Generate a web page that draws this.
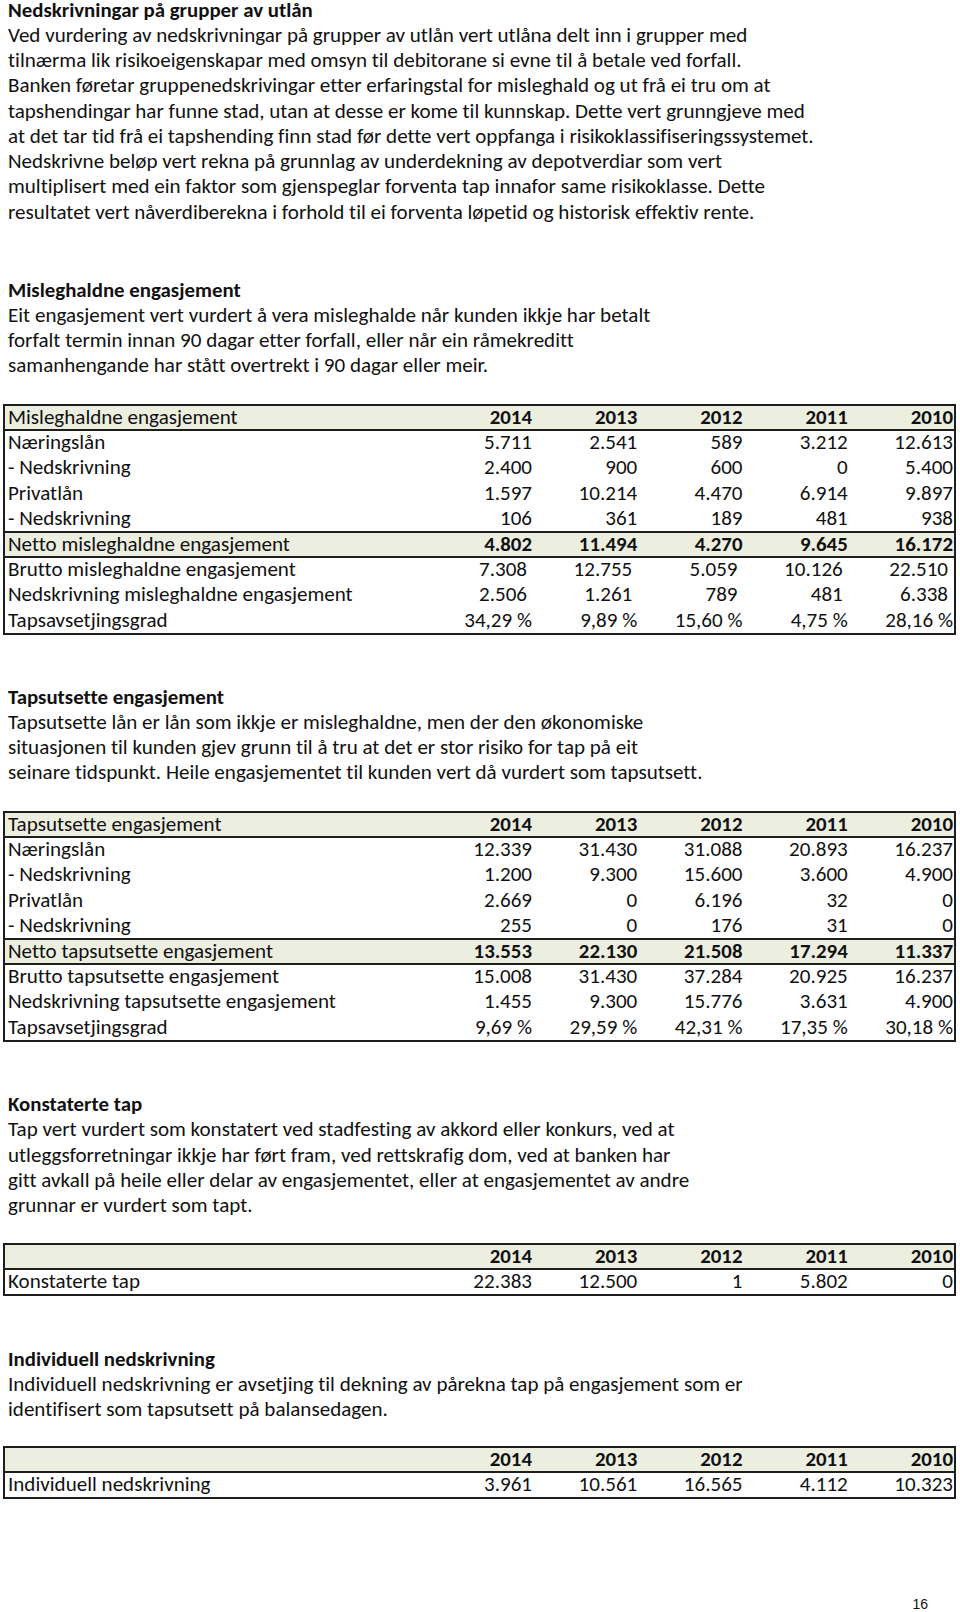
<!DOCTYPE html>
<html lang="nn">
<head>
<meta charset="utf-8">
<script src="https://cdn.jsdelivr.net/npm/chart.js@4.4.1/dist/chart.umd.min.js"></script>
<style>
html,body{margin:0;padding:0;background:#fff;}
body{width:960px;height:1612px;position:relative;overflow:hidden;color:#111;}
.t{position:absolute;white-space:nowrap;font-variant-ligatures:none;font-feature-settings:"liga" 0,"clig" 0;}
.fill{position:absolute;background:#ECEEE0;}
.ln{position:absolute;background:#1e1e1e;}
</style>
</head>
<body>
<script>
// ---------- DATA ----------
const years = [2014, 2013, 2012, 2011, 2010];

const sec1Title = "Nedskrivningar på grupper av utlån";
const sec1Text = [
  "Ved vurdering av nedskrivningar på grupper av utlån vert utlåna delt inn i grupper med",
  "tilnærma lik risikoeigenskapar med omsyn til debitorane si evne til å betale ved forfall.",
  "Banken føretar gruppenedskrivingar etter erfaringstal for misleghald og ut frå ei tru om at",
  "tapshendingar har funne stad, utan at desse er kome til kunnskap. Dette vert grunngjeve med",
  "at det tar tid frå ei tapshending finn stad før dette vert oppfanga i risikoklassifiseringssystemet.",
  "Nedskrivne beløp vert rekna på grunnlag av underdekning av depotverdiar som vert",
  "multiplisert med ein faktor som gjenspeglar forventa tap innafor same risikoklasse. Dette",
  "resultatet vert nåverdiberekna i forhold til ei forventa løpetid og historisk effektiv rente."
];

const sec2Title = "Misleghaldne engasjement";
const sec2Text = [
  "Eit engasjement vert vurdert å vera misleghalde når kunden ikkje har betalt",
  "forfalt termin innan 90 dagar etter forfall, eller når ein råmekreditt",
  "samanhengande har stått overtrekt i 90 dagar eller meir."
];

const misHeader = "Misleghaldne engasjement";
const misLabels = ["Næringslån", "- Nedskrivning", "Privatlån", "- Nedskrivning",
  "Netto misleghaldne engasjement", "Brutto misleghaldne engasjement",
  "Nedskrivning misleghaldne engasjement", "Tapsavsetjingsgrad"];
const misNaering = [5711, 2541, 589, 3212, 12613];
const misNaeringNed = [2400, 900, 600, 0, 5400];
const misPrivat = [1597, 10214, 4470, 6914, 9897];
const misPrivatNed = [106, 361, 189, 481, 938];
const misNetto = [4802, 11494, 4270, 9645, 16172];
const misBrutto = [7308, 12755, 5059, 10126, 22510];
const misNed = [2506, 1261, 789, 481, 6338];
const misGrad = [34.29, 9.89, 15.60, 4.75, 28.16];

const sec3Title = "Tapsutsette engasjement";
const sec3Text = [
  "Tapsutsette lån er lån som ikkje er misleghaldne, men der den økonomiske",
  "situasjonen til kunden gjev grunn til å tru at det er stor risiko for tap på eit",
  "seinare tidspunkt. Heile engasjementet til kunden vert då vurdert som tapsutsett."
];

const tapHeader = "Tapsutsette engasjement";
const tapLabels = ["Næringslån", "- Nedskrivning", "Privatlån", "- Nedskrivning",
  "Netto tapsutsette engasjement", "Brutto tapsutsette engasjement",
  "Nedskrivning tapsutsette engasjement", "Tapsavsetjingsgrad"];
const tapNaering = [12339, 31430, 31088, 20893, 16237];
const tapNaeringNed = [1200, 9300, 15600, 3600, 4900];
const tapPrivat = [2669, 0, 6196, 32, 0];
const tapPrivatNed = [255, 0, 176, 31, 0];
const tapNetto = [13553, 22130, 21508, 17294, 11337];
const tapBrutto = [15008, 31430, 37284, 20925, 16237];
const tapNed = [1455, 9300, 15776, 3631, 4900];
const tapGrad = [9.69, 29.59, 42.31, 17.35, 30.18];

const sec4Title = "Konstaterte tap";
const sec4Text = [
  "Tap vert vurdert som konstatert ved stadfesting av akkord eller konkurs, ved at",
  "utleggsforretningar ikkje har ført fram, ved rettskrafig dom, ved at banken har",
  "gitt avkall på heile eller delar av engasjementet, eller at engasjementet av andre",
  "grunnar er vurdert som tapt."
];
const konstLabel = "Konstaterte tap";
const konstValues = [22383, 12500, 1, 5802, 0];

const sec5Title = "Individuell nedskrivning";
const sec5Text = [
  "Individuell nedskrivning er avsetjing til dekning av pårekna tap på engasjement som er",
  "identifisert som tapsutsett på balansedagen."
];
const indLabel = "Individuell nedskrivning";
const indValues = [3961, 10561, 16565, 4112, 10323];

const pageNumber = "16";

// ---------- LAYOUT ----------
const FAMILY = 'Carlito, Lato, "Open Sans", sans-serif';
const cv = document.createElement('canvas');
const ctx = cv.getContext('2d');
function fit(text, weight, target) {
  ctx.font = weight + ' 100px ' + FAMILY;
  return 100 * target / ctx.measureText(text).width;
}
const fsR = fit(sec1Text[4], 'normal', 805);
const fsB = fit(sec1Title, 'bold', 305);
function metrics(fs, weight) {
  ctx.font = weight + ' ' + fs + 'px ' + FAMILY;
  const m = ctx.measureText('Hg');
  return { asc: m.fontBoundingBoxAscent, desc: m.fontBoundingBoxDescent };
}
const mR = metrics(fsR, 'normal');
const mB = metrics(fsB, 'bold');
const LH = 16;

function text(str, x, baseline, bold, right) {
  const d = document.createElement('div');
  d.className = 't';
  const m = bold ? mB : mR;
  d.style.fontFamily = FAMILY;
  d.style.fontSize = (bold ? fsB : fsR) + 'px';
  d.style.fontWeight = bold ? 'bold' : 'normal';
  d.style.lineHeight = LH + 'px';
  const baseOff = (LH - (m.asc + m.desc)) / 2 + m.asc;
  d.style.top = (baseline - baseOff) + 'px';
  if (right) d.style.right = (960 - x) + 'px'; else d.style.left = x + 'px';
  d.textContent = str;
  document.body.appendChild(d);
}
function box(cls, x, y, w, h) {
  const d = document.createElement('div');
  d.className = cls;
  d.style.left = x + 'px'; d.style.top = y + 'px';
  d.style.width = w + 'px'; d.style.height = h + 'px';
  document.body.appendChild(d);
}

const PITCH = 25.25;
function section(title, lines, base) {
  text(title, 8, base, true, false);
  lines.forEach((l, i) => text(l, 8, base + (i + 1) * PITCH, false, false));
}

function fmtNum(n) { return String(n).replace(/\B(?=(\d{3})+(?!\d))/g, '.'); }
function fmtPct(n) { return n.toFixed(2).replace('.', ',') + ' %'; }

const ROWH = 25.4, TL = 4, TR = 955;
const colRight = [532, 637.25, 742.5, 847.75, 953];
function table(top, headerLabel, rows, rules, fills) {
  const n = rows.length + 1;
  fills.forEach(i => box('fill', TL, top + i * ROWH, TR - TL, ROWH));
  rules.forEach(i => box('ln', TL - 1, top + i * ROWH - 1, TR - TL + 2, 2));
  box('ln', TL - 1, top - 1, 2, n * ROWH + 2);
  box('ln', TR - 1, top - 1, 2, n * ROWH + 2);
  const off = 18.6;
  if (headerLabel) text(headerLabel, 8, top + off, false, false);
  years.forEach((y, j) => text(String(y), colRight[j], top + off, true, true));
  rows.forEach((r, i) => {
    const b = top + (i + 1) * ROWH + off;
    text(r.label, 8, b, false, false);
    r.values.forEach((v, j) => text(r.pct ? fmtPct(v) : fmtNum(v), colRight[j] - (r.inset || 0), b, !!r.bold, true));
  });
}

section(sec1Title, sec1Text, 16.7);
section(sec2Title, sec2Text, 296.5);

const misValues = [misNaering, misNaeringNed, misPrivat, misPrivatNed, misNetto, misBrutto, misNed, misGrad];
const misStyle = [{}, {}, {}, {}, {bold: true}, {inset: 5}, {inset: 5}, {pct: true}];
table(405, misHeader, misLabels.map((l, i) => Object.assign({label: l, values: misValues[i]}, misStyle[i])), [0, 1, 5, 6, 9], [0, 5]);

section(sec3Title, sec3Text, 703.5);
const tapValues = [tapNaering, tapNaeringNed, tapPrivat, tapPrivatNed, tapNetto, tapBrutto, tapNed, tapGrad];
const tapStyle = [{}, {}, {}, {}, {bold: true}, {}, {}, {pct: true}];
table(812, tapHeader, tapLabels.map((l, i) => Object.assign({label: l, values: tapValues[i]}, tapStyle[i])), [0, 1, 5, 6, 9], [0, 5]);

section(sec4Title, sec4Text, 1111);
table(1244, "", [{label: konstLabel, values: konstValues}], [0, 1, 2], [0]);

section(sec5Title, sec5Text, 1365.5);
table(1447, "", [{label: indLabel, values: indValues}], [0, 1, 2], [0]);

// page number
const pn = document.createElement('div');
pn.className = 't';
pn.style.font = '14px "Liberation Sans", Arial, sans-serif';
pn.style.lineHeight = '14px';
pn.style.right = (960 - 928) + 'px';
pn.style.top = '1597px';
pn.textContent = pageNumber;
document.body.appendChild(pn);
</script>
</body>
</html>
